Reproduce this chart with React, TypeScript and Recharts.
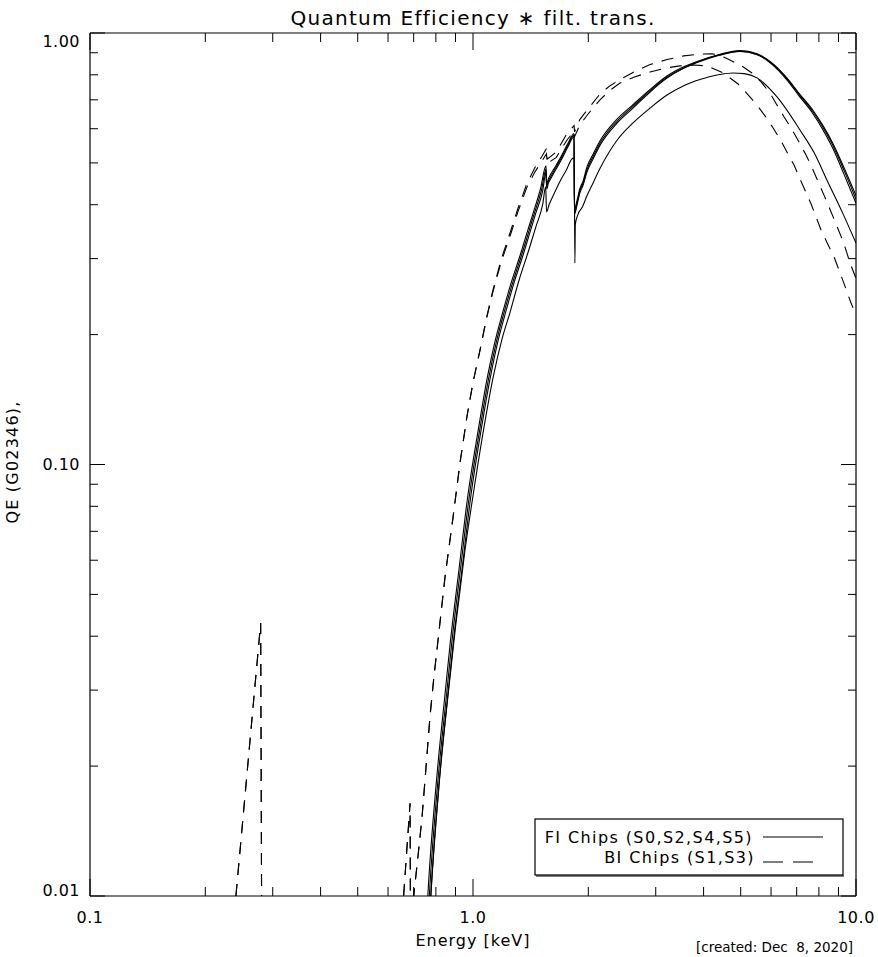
import React from 'react';
import { LineChart, Line, XAxis, YAxis, Customized } from 'recharts';

// ---------- data ----------
const X_TICKS = [0.1, 0.2, 0.3, 0.4, 0.5, 0.6, 0.7, 0.8, 0.9, 1, 2, 3, 4, 5, 6, 7, 8, 9, 10];
const Y_TICKS = [0.01, 0.02, 0.03, 0.04, 0.05, 0.06, 0.07, 0.08, 0.09, 0.1, 0.2, 0.3, 0.4, 0.5, 0.6, 0.7, 0.8, 0.9, 1];
const X_MAJOR = [0.1, 1, 10];
const X_LABELS = ['0.1', '1.0', '10.0'];
const Y_MAJOR = [0.01, 0.1, 1];
const Y_LABELS = ['0.01', '0.10', '1.00'];

const TITLE = 'Quantum Efficiency \u2217 filt. trans.';
const X_TITLE = 'Energy [keV]';
const Y_TITLE = 'QE (G02346),';
const CREATED = '[created: Dec  8, 2020]';
const LEGEND_FI = 'FI Chips (S0,S2,S4,S5)';
const LEGEND_BI = 'BI Chips (S1,S3)';

// [energy keV, QE]
const FI_S2: [number, number][] = [
  [0.752, 0.008], [0.763, 0.0102], [0.805, 0.019], [0.845, 0.0293], [0.871, 0.0382], [0.92, 0.0575],
  [0.97, 0.085], [1.03, 0.119], [1.088, 0.158], [1.14, 0.192], [1.197, 0.226], [1.26, 0.265],
  [1.327, 0.305], [1.38, 0.342], [1.435, 0.382], [1.5, 0.435], [1.551, 0.492], [1.557, 0.448],
  [1.575, 0.46], [1.59, 0.468], [1.64, 0.49], [1.708, 0.522], [1.77, 0.555], [1.836, 0.585],
  [1.84, 0.39], [1.87, 0.41], [1.9, 0.435], [1.94, 0.455], [1.985, 0.49], [2.05, 0.52],
  [2.145, 0.562], [2.38, 0.632], [2.617, 0.682], [2.9, 0.74], [3.21, 0.795], [3.55, 0.835],
  [3.915, 0.864], [4.4, 0.892], [4.98, 0.91], [5.514, 0.895], [6.0, 0.856], [6.6, 0.787],
  [7.1, 0.725], [7.72, 0.662], [8.2, 0.61], [8.71, 0.554], [9.3, 0.488], [10.0, 0.42],
];
const FI_S4: [number, number][] = [
  [0.759, 0.008], [0.77, 0.0102], [0.812, 0.019], [0.853, 0.0293], [0.879, 0.0382], [0.928, 0.0575],
  [0.979, 0.085], [1.039, 0.119], [1.098, 0.158], [1.15, 0.192], [1.207, 0.226], [1.271, 0.265],
  [1.338, 0.305], [1.392, 0.342], [1.446, 0.382], [1.51, 0.433], [1.551, 0.483], [1.557, 0.442],
  [1.575, 0.455], [1.59, 0.462], [1.64, 0.485], [1.708, 0.517], [1.77, 0.55], [1.836, 0.58],
  [1.84, 0.385], [1.87, 0.405], [1.9, 0.43], [1.94, 0.45], [1.985, 0.483], [2.05, 0.513],
  [2.145, 0.555], [2.38, 0.625], [2.617, 0.676], [2.9, 0.735], [3.21, 0.79], [3.55, 0.831],
  [3.915, 0.861], [4.4, 0.89], [4.98, 0.908], [5.514, 0.893], [6.0, 0.854], [6.6, 0.784],
  [7.1, 0.721], [7.72, 0.657], [8.2, 0.604], [8.71, 0.548], [9.3, 0.481], [10.0, 0.412],
];
const FI_S0: [number, number][] = [
  [0.766, 0.008], [0.777, 0.0102], [0.819, 0.019], [0.86, 0.0293], [0.887, 0.0382], [0.937, 0.0575],
  [0.988, 0.085], [1.048, 0.119], [1.108, 0.158], [1.16, 0.192], [1.218, 0.226], [1.282, 0.265],
  [1.35, 0.305], [1.404, 0.342], [1.458, 0.382], [1.52, 0.43], [1.551, 0.475], [1.557, 0.435],
  [1.575, 0.45], [1.59, 0.457], [1.64, 0.48], [1.708, 0.512], [1.77, 0.545], [1.836, 0.575],
  [1.84, 0.38], [1.87, 0.4], [1.9, 0.425], [1.94, 0.445], [1.985, 0.477], [2.05, 0.507],
  [2.145, 0.549], [2.38, 0.619], [2.617, 0.67], [2.9, 0.73], [3.21, 0.786], [3.55, 0.828],
  [3.915, 0.859], [4.4, 0.888], [4.98, 0.906], [5.514, 0.89], [6.0, 0.85], [6.6, 0.779],
  [7.1, 0.715], [7.72, 0.65], [8.2, 0.596], [8.71, 0.539], [9.3, 0.471], [10.0, 0.403],
];
const FI_S5: [number, number][] = [
  [0.765, 0.008], [0.776, 0.01], [0.815, 0.018], [0.86, 0.029], [0.9, 0.042], [0.95, 0.062],
  [1.012, 0.0906], [1.07, 0.123], [1.13, 0.16], [1.19, 0.195], [1.249, 0.225], [1.32, 0.268],
  [1.4, 0.315], [1.46, 0.356], [1.52, 0.4], [1.548, 0.44], [1.556, 0.385], [1.58, 0.4],
  [1.62, 0.42], [1.68, 0.45], [1.75, 0.48], [1.825, 0.513], [1.838, 0.51], [1.845, 0.293],
  [1.85, 0.36], [1.88, 0.38], [1.93, 0.395], [1.985, 0.42], [2.06, 0.45], [2.145, 0.485],
  [2.38, 0.565], [2.617, 0.619], [2.9, 0.67], [3.21, 0.718], [3.55, 0.755], [3.915, 0.78],
  [4.4, 0.801], [4.77, 0.808], [5.1, 0.805], [5.514, 0.787], [6.22, 0.711], [7.14, 0.596],
  [7.8, 0.525], [8.4, 0.456], [9.2, 0.385], [10.0, 0.326],
];
const BI_S3: [number, number][] = [
  [0.235, 0.008], [0.279, 0.0429], [0.2815, 0.004], [0.647, 0.004], [0.6475, 0.008], [0.685, 0.0164],
  [0.688, 0.005], [0.7, 0.01], [0.718, 0.0123], [0.736, 0.0152], [0.754, 0.0199], [0.772, 0.026],
  [0.79, 0.032], [0.81, 0.039], [0.845, 0.0548], [0.887, 0.0755], [0.925, 0.101], [0.964, 0.129],
  [1.0, 0.155], [1.043, 0.184], [1.085, 0.219], [1.128, 0.254], [1.185, 0.299], [1.249, 0.344],
  [1.31, 0.392], [1.384, 0.449], [1.45, 0.487], [1.514, 0.518], [1.556, 0.54], [1.562, 0.51],
  [1.65, 0.53], [1.76, 0.585], [1.836, 0.61], [1.842, 0.59], [1.9, 0.63], [2.0, 0.668],
  [2.145, 0.722], [2.28, 0.755], [2.42, 0.78], [2.617, 0.81], [2.9, 0.845], [3.21, 0.868],
  [3.55, 0.885], [3.915, 0.894], [4.2, 0.895], [4.4, 0.888], [4.63, 0.87], [5.0, 0.842],
  [5.35, 0.808], [5.65, 0.77], [5.96, 0.726], [6.2, 0.684], [6.49, 0.639], [6.8, 0.598],
  [7.1, 0.559], [7.4, 0.522], [7.68, 0.487], [8.25, 0.421], [8.87, 0.361], [9.3, 0.325],
  [9.65, 0.293], [10.0, 0.27],
];
const BI_S1: [number, number][] = [
  [0.235, 0.008], [0.279, 0.0429], [0.2815, 0.004], [0.647, 0.004], [0.6475, 0.008], [0.685, 0.0164],
  [0.688, 0.005], [0.7, 0.01], [0.718, 0.0123], [0.736, 0.0152], [0.754, 0.0199], [0.772, 0.026],
  [0.79, 0.032], [0.81, 0.039], [0.845, 0.0548], [0.887, 0.0755], [0.925, 0.101], [0.964, 0.129],
  [1.0, 0.155], [1.043, 0.184], [1.085, 0.218], [1.128, 0.252], [1.185, 0.295], [1.249, 0.338],
  [1.31, 0.385], [1.384, 0.44], [1.45, 0.476], [1.514, 0.505], [1.556, 0.525], [1.562, 0.498],
  [1.65, 0.515], [1.76, 0.565], [1.836, 0.592], [1.842, 0.575], [1.9, 0.612], [2.0, 0.65],
  [2.145, 0.7], [2.28, 0.737], [2.42, 0.766], [2.65, 0.792], [2.898, 0.812], [3.2, 0.83],
  [3.47, 0.839], [3.78, 0.843], [4.08, 0.839], [4.5, 0.808], [4.92, 0.762], [5.2, 0.723],
  [5.51, 0.681], [5.8, 0.641], [6.07, 0.603], [6.35, 0.566], [6.6, 0.53], [6.9, 0.493],
  [7.14, 0.459], [7.63, 0.402], [8.1, 0.35], [8.4, 0.327], [8.76, 0.303], [9.2, 0.27],
  [9.7, 0.237], [10.0, 0.222],
];

const FI_SERIES = [FI_S0, FI_S2, FI_S4, FI_S5];
const BI_SERIES = [BI_S1, BI_S3];

// ---------- presentation ----------
const FONT = '"DejaVu Sans", sans-serif';
const INK = '#000';
const AXIS_LINE = { stroke: INK, strokeWidth: 1.2 };
const DASH = '12 9';

const toRows = (pts: [number, number][]) => pts.map(([e, qe]) => ({ e, qe }));
const isMajor = (v: number) => {
  const l = Math.log10(v);
  return Math.abs(l - Math.round(l)) < 1e-6;
};
const majorIndex = (list: number[], v: number) => list.findIndex((m) => Math.abs(m - v) < 1e-9);

const X_MAJOR_LEN = 17;
const X_MINOR_LEN = 9;
const Y_MAJOR_LEN = 15;
const Y_MINOR_LEN = 8;
const Y_LABEL_DY = [0, 5.5, 14];

const BottomTick = (props: any) => {
  const { x, y, payload } = props;
  const v = payload.value;
  const i = majorIndex(X_MAJOR, v);
  return (
    <g>
      <line x1={x} y1={y} x2={x} y2={y - (isMajor(v) ? X_MAJOR_LEN : X_MINOR_LEN)} stroke={INK} strokeWidth={1} />
      {i >= 0 && (
        <text x={x} y={y + 27} textAnchor="middle" fontSize={16} fontFamily={FONT} fill={INK} letterSpacing={0.5}>
          {X_LABELS[i]}
        </text>
      )}
    </g>
  );
};
const TopTick = (props: any) => {
  const { x, y, payload } = props;
  const v = payload.value;
  return <line x1={x} y1={y} x2={x} y2={y + (isMajor(v) ? X_MAJOR_LEN : X_MINOR_LEN)} stroke={INK} strokeWidth={1} />;
};
const LeftTick = (props: any) => {
  const { x, y, payload } = props;
  const v = payload.value;
  const i = majorIndex(Y_MAJOR, v);
  return (
    <g>
      <line x1={x} y1={y} x2={x + (isMajor(v) ? Y_MAJOR_LEN : Y_MINOR_LEN)} y2={y} stroke={INK} strokeWidth={1} />
      {i >= 0 && (
        <text x={x - 10} y={y + Y_LABEL_DY[i]} textAnchor="end" fontSize={16} fontFamily={FONT} fill={INK} letterSpacing={0.5}>
          {Y_LABELS[i]}
        </text>
      )}
    </g>
  );
};
const RightTick = (props: any) => {
  const { x, y, payload } = props;
  const v = payload.value;
  return <line x1={x} y1={y} x2={x - (isMajor(v) ? Y_MAJOR_LEN : Y_MINOR_LEN)} y2={y} stroke={INK} strokeWidth={1} />;
};

const Annotations = () => (
  <g fontFamily={FONT} fill={INK}>
    <text x={473} y={25} textAnchor="middle" fontSize={20} letterSpacing={1.3}>
      {TITLE}
    </text>
    <text x={473} y={946} textAnchor="middle" fontSize={16} letterSpacing={1}>
      {X_TITLE}
    </text>
    <text x={18} y={462} textAnchor="middle" fontSize={16} letterSpacing={1.2} transform="rotate(-90 18 462)">
      {Y_TITLE}
    </text>
    <text x={853} y={952} textAnchor="end" fontSize={13.5} style={{ whiteSpace: 'pre' }}>
      {CREATED}
    </text>
    <rect x={535} y={819} width={308} height={56} fill="#fff" stroke={INK} strokeWidth={1.2} />
    <line x1={536} y1={876} x2={844} y2={876} stroke={INK} strokeWidth={1.2} />
    <text x={753} y={843} textAnchor="end" fontSize={16} letterSpacing={1.4}>
      {LEGEND_FI}
    </text>
    <line x1={763} y1={837} x2={823} y2={837} stroke={INK} strokeWidth={1.2} />
    <text x={755} y={863} textAnchor="end" fontSize={16} letterSpacing={1.4}>
      {LEGEND_BI}
    </text>
    <line x1={763} y1={862} x2={823} y2={862} stroke={INK} strokeWidth={1.2} strokeDasharray="20 10" />
  </g>
);

export default function App() {
  return (
    <div style={{ position: 'absolute', left: 0, top: 0, width: 878, height: 957, background: '#fff' }}>
      <LineChart width={878} height={957} margin={{ top: 0, right: 0, bottom: 0, left: 0 }}>
        <XAxis
          xAxisId="b" dataKey="e" type="number" scale="log" domain={[0.1, 10]} allowDataOverflow
          ticks={X_TICKS} interval={0} orientation="bottom" height={61} tickSize={0} tickMargin={0}
          tickLine={false} axisLine={AXIS_LINE} tick={BottomTick}
        />
        <XAxis
          xAxisId="t" dataKey="e" type="number" scale="log" domain={[0.1, 10]} allowDataOverflow
          ticks={X_TICKS} interval={0} orientation="top" height={33} tickSize={0} tickMargin={0}
          tickLine={false} axisLine={AXIS_LINE} tick={TopTick}
        />
        <YAxis
          yAxisId="l" type="number" scale="log" domain={[0.01, 1]} allowDataOverflow
          ticks={Y_TICKS} interval={0} orientation="left" width={90} tickSize={0} tickMargin={0}
          tickLine={false} axisLine={AXIS_LINE} tick={LeftTick}
        />
        <YAxis
          yAxisId="r" type="number" scale="log" domain={[0.01, 1]} allowDataOverflow
          ticks={Y_TICKS} interval={0} orientation="right" width={22} tickSize={0} tickMargin={0}
          tickLine={false} axisLine={AXIS_LINE} tick={RightTick}
        />
        {FI_SERIES.map((s, i) => (
          <Line
            key={'fi' + i} xAxisId="b" yAxisId="l" data={toRows(s)} dataKey="qe" type="monotone"
            stroke={INK} strokeWidth={1.1} dot={false} activeDot={false} isAnimationActive={false}
          />
        ))}
        {BI_SERIES.map((s, i) => (
          <Line
            key={'bi' + i} xAxisId="b" yAxisId="l" data={toRows(s)} dataKey="qe" type="linear"
            stroke={INK} strokeWidth={1.1} strokeDasharray={DASH} dot={false} activeDot={false} isAnimationActive={false}
          />
        ))}
        <Customized component={Annotations} />
      </LineChart>
    </div>
  );
}
